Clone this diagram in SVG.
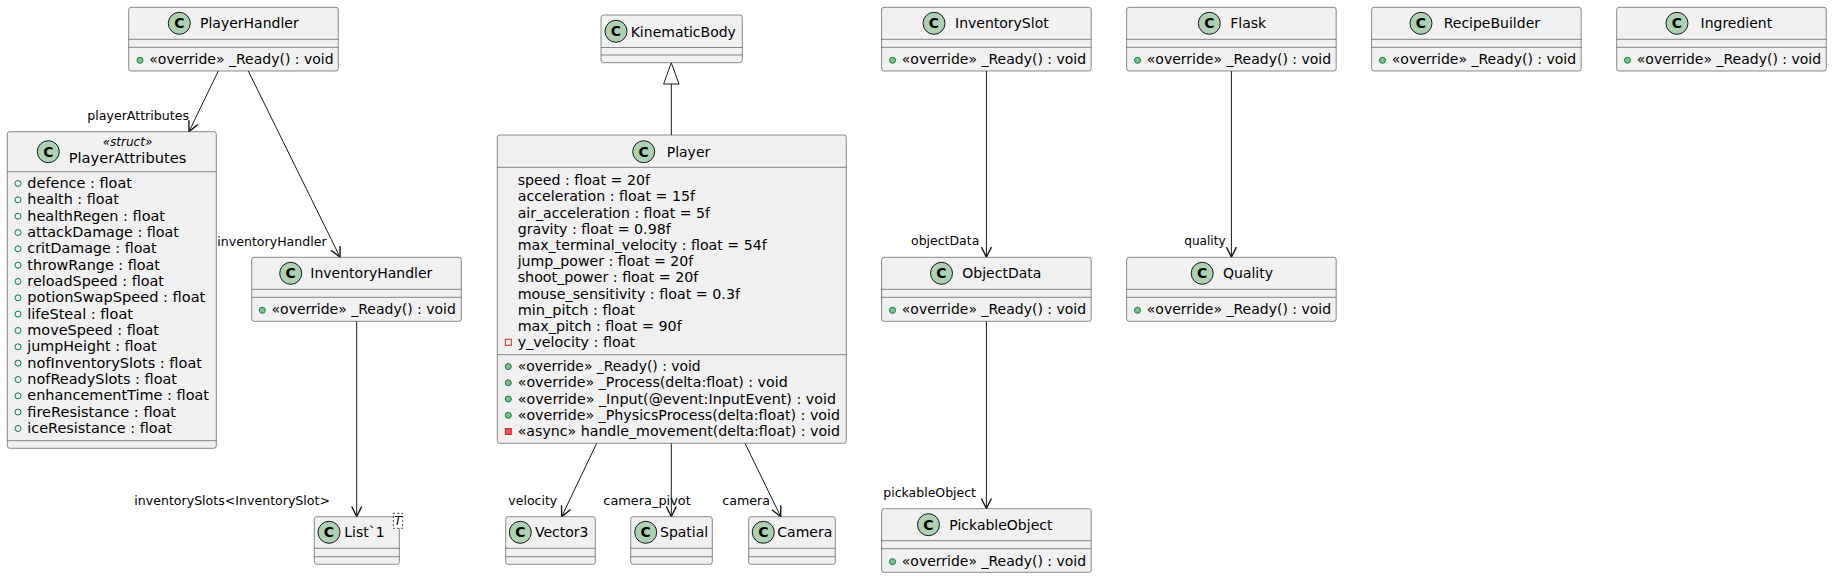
<svg xmlns="http://www.w3.org/2000/svg" width="1832" height="578" viewBox="0 0 1832 578">
<defs>
<style>
text{font-family:"DejaVu Sans","Liberation Sans",sans-serif;fill:#000000}
.box{fill:#F1F1F1;stroke:#181818;stroke-width:0.5}
.sep{stroke:#181818;stroke-width:0.5}
.badge{fill:#ADD1B2;stroke:#181818;stroke-width:1}
.cl{font-size:14px;font-weight:bold;text-anchor:middle}
.nm{font-size:14px}
.mem{font-size:14px}
.st{font-size:12px;font-style:italic;text-anchor:middle}
.lbl{font-size:13px}
.pubm{fill:#84BE84;stroke:#038048;stroke-width:1}
.pubf{fill:none;stroke:#038048;stroke-width:1}
.privf{fill:none;stroke:#C82930;stroke-width:1}
.privm{fill:#F24D5C;stroke:#C82930;stroke-width:1}
.edge{stroke:#181818;stroke-width:1;fill:none}
</style>
<marker id="arr" markerUnits="userSpaceOnUse" markerWidth="14" markerHeight="14" viewBox="-12 -7 14 14" refX="0" refY="0" orient="auto">
<path d="M-10,-5 L0,0 L-10,5" fill="none" stroke="#181818" stroke-width="1.4"/>
</marker>
</defs>
<rect width="1832" height="578" fill="#FFFFFF"/>

<g id="connectors">
<line class="edge" x1="218.3" y1="71" x2="189" y2="131.5" marker-end="url(#arr)"/>
<text class="lbl" x="87.3" y="119.5" textLength="101.7" lengthAdjust="spacingAndGlyphs">playerAttributes</text>
<line class="edge" x1="248.3" y1="71" x2="340" y2="257.1" marker-end="url(#arr)"/>
<text class="lbl" x="217.3" y="245.8" textLength="109.4" lengthAdjust="spacingAndGlyphs">inventoryHandler</text>
<line class="edge" x1="356.7" y1="321.3" x2="356.7" y2="516.5" marker-end="url(#arr)"/>
<text class="lbl" x="134.3" y="504.8" textLength="195.7" lengthAdjust="spacingAndGlyphs">inventorySlots&lt;InventorySlot&gt;</text>
<line class="edge" x1="671.3" y1="135" x2="671.3" y2="84"/>
<polygon points="671.3,62.7 663.6,84 679,84" fill="none" stroke="#181818" stroke-width="1"/>
<line class="edge" x1="596.7" y1="443.3" x2="561.7" y2="516.5" marker-end="url(#arr)"/>
<text class="lbl" x="508.3" y="505" textLength="49" lengthAdjust="spacingAndGlyphs">velocity</text>
<line class="edge" x1="671.3" y1="443.3" x2="671.3" y2="516.5" marker-end="url(#arr)"/>
<text class="lbl" x="603.3" y="505" textLength="87.4" lengthAdjust="spacingAndGlyphs">camera_pivot</text>
<line class="edge" x1="745" y1="443.3" x2="780.7" y2="516.5" marker-end="url(#arr)"/>
<text class="lbl" x="722.3" y="505" textLength="47.7" lengthAdjust="spacingAndGlyphs">camera</text>
<line class="edge" x1="986.4" y1="71" x2="986.4" y2="257.1" marker-end="url(#arr)"/>
<text class="lbl" x="911" y="245.3" textLength="68.3" lengthAdjust="spacingAndGlyphs">objectData</text>
<line class="edge" x1="986.4" y1="321.3" x2="986.4" y2="508.5" marker-end="url(#arr)"/>
<text class="lbl" x="883.3" y="496.7" textLength="92.7" lengthAdjust="spacingAndGlyphs">pickableObject</text>
<line class="edge" x1="1231.4" y1="71" x2="1231.4" y2="257.1" marker-end="url(#arr)"/>
<text class="lbl" x="1184.3" y="245.3" textLength="41.3" lengthAdjust="spacingAndGlyphs">quality</text>
</g>

<g id="PlayerHandler">
<rect class="box" x="128.7" y="7.3" width="209.6" height="63.7" rx="2.5"/>
<circle class="badge" cx="179.3" cy="23.3" r="11"/><text class="cl" x="179.3" y="28.3">C</text>
<text class="nm" x="200" y="28.3">PlayerHandler</text>
<line class="sep" x1="128.7" y1="39.3" x2="338.3" y2="39.3"/>
<line class="sep" x1="128.7" y1="47.3" x2="338.3" y2="47.3"/>
<circle class="pubm" cx="140" cy="60.3" r="3"/>
<text class="mem" x="149.3" y="64.3">«override» _Ready() : void</text>
</g>

<g id="PlayerAttributes">
<rect class="box" x="7.3" y="131.7" width="209" height="316.6" rx="2.5"/>
<circle class="badge" cx="48.3" cy="151.7" r="11"/><text class="cl" x="48.3" y="156.7">C</text>
<text class="st" x="127.5" y="146">«struct»</text>
<text class="nm" x="68.7" y="162.7" textLength="117.6" lengthAdjust="spacingAndGlyphs">PlayerAttributes</text>
<line class="sep" x1="7.3" y1="171.7" x2="216.3" y2="171.7"/>
<circle class="pubf" cx="18" cy="183.5" r="3"/><text class="mem" x="27.3" y="188" textLength="104.7" lengthAdjust="spacingAndGlyphs">defence : float</text>
<circle class="pubf" cx="18" cy="199.8" r="3"/><text class="mem" x="27.3" y="204.3" textLength="91.7" lengthAdjust="spacingAndGlyphs">health : float</text>
<circle class="pubf" cx="18" cy="216.2" r="3"/><text class="mem" x="27.3" y="220.7" textLength="137.7" lengthAdjust="spacingAndGlyphs">healthRegen : float</text>
<circle class="pubf" cx="18" cy="232.5" r="3"/><text class="mem" x="27.3" y="237" textLength="151.7" lengthAdjust="spacingAndGlyphs">attackDamage : float</text>
<circle class="pubf" cx="18" cy="248.8" r="3"/><text class="mem" x="27.3" y="253.3" textLength="129.4" lengthAdjust="spacingAndGlyphs">critDamage : float</text>
<circle class="pubf" cx="18" cy="265.2" r="3"/><text class="mem" x="27.3" y="269.7" textLength="132.7" lengthAdjust="spacingAndGlyphs">throwRange : float</text>
<circle class="pubf" cx="18" cy="281.5" r="3"/><text class="mem" x="27.3" y="286" textLength="136.7" lengthAdjust="spacingAndGlyphs">reloadSpeed : float</text>
<circle class="pubf" cx="18" cy="297.8" r="3"/><text class="mem" x="27.3" y="302.3" textLength="178" lengthAdjust="spacingAndGlyphs">potionSwapSpeed : float</text>
<circle class="pubf" cx="18" cy="314.1" r="3"/><text class="mem" x="27.3" y="318.6" textLength="105.7" lengthAdjust="spacingAndGlyphs">lifeSteal : float</text>
<circle class="pubf" cx="18" cy="330.5" r="3"/><text class="mem" x="27.3" y="335" textLength="131.7" lengthAdjust="spacingAndGlyphs">moveSpeed : float</text>
<circle class="pubf" cx="18" cy="346.8" r="3"/><text class="mem" x="27.3" y="351.3" textLength="129.4" lengthAdjust="spacingAndGlyphs">jumpHeight : float</text>
<circle class="pubf" cx="18" cy="363.1" r="3"/><text class="mem" x="27.3" y="367.6" textLength="174.7" lengthAdjust="spacingAndGlyphs">nofInventorySlots : float</text>
<circle class="pubf" cx="18" cy="379.5" r="3"/><text class="mem" x="27.3" y="384" textLength="149.7" lengthAdjust="spacingAndGlyphs">nofReadySlots : float</text>
<circle class="pubf" cx="18" cy="395.8" r="3"/><text class="mem" x="27.3" y="400.3" textLength="181.7" lengthAdjust="spacingAndGlyphs">enhancementTime : float</text>
<circle class="pubf" cx="18" cy="412.1" r="3"/><text class="mem" x="27.3" y="416.6" textLength="148.7" lengthAdjust="spacingAndGlyphs">fireResistance : float</text>
<circle class="pubf" cx="18" cy="428.5" r="3"/><text class="mem" x="27.3" y="433" textLength="144.7" lengthAdjust="spacingAndGlyphs">iceResistance : float</text>
<line class="sep" x1="7.3" y1="440.7" x2="216.3" y2="440.7"/>
</g>

<g id="InventoryHandler">
<rect class="box" x="251.7" y="257.3" width="209.6" height="64" rx="2.5"/>
<circle class="badge" cx="290.7" cy="273.3" r="11"/><text class="cl" x="290.7" y="278.3">C</text>
<text class="nm" x="310.3" y="278.3">InventoryHandler</text>
<line class="sep" x1="251.7" y1="289.3" x2="461.3" y2="289.3"/>
<line class="sep" x1="251.7" y1="297.3" x2="461.3" y2="297.3"/>
<circle class="pubm" cx="262.3" cy="310.3" r="3"/>
<text class="mem" x="271.5" y="314.3">«override» _Ready() : void</text>
</g>

<g id="List1">
<rect class="box" x="314.3" y="516.7" width="85" height="47.6" rx="2.5"/>
<circle class="badge" cx="329" cy="532.3" r="11"/><text class="cl" x="329" y="537.3">C</text>
<text class="nm" x="344.3" y="537.3">List`1</text>
<line class="sep" x1="314.3" y1="548.3" x2="399.3" y2="548.3"/>
<line class="sep" x1="314.3" y1="556.7" x2="399.3" y2="556.7"/>
<rect x="393.3" y="513.3" width="9.4" height="15" fill="#FFFFFF" stroke="#181818" stroke-width="0.8" stroke-dasharray="2,2"/>
<text x="398" y="525" font-size="12" font-style="italic" text-anchor="middle">T</text>
</g>

<g id="KinematicBody">
<rect class="box" x="601" y="15" width="141.3" height="47.7" rx="2.5"/>
<circle class="badge" cx="616" cy="31.3" r="11"/><text class="cl" x="616" y="36.3">C</text>
<text class="nm" x="630.7" y="36.5">KinematicBody</text>
<line class="sep" x1="601" y1="47.5" x2="742.3" y2="47.5"/>
<line class="sep" x1="601" y1="55" x2="742.3" y2="55"/>
</g>

<g id="Player">
<rect class="box" x="497.3" y="135" width="349" height="308.3" rx="2.5"/>
<circle class="badge" cx="643.7" cy="151.7" r="11"/><text class="cl" x="643.7" y="156.7">C</text>
<text class="nm" x="666.7" y="156.7">Player</text>
<line class="sep" x1="497.3" y1="167.3" x2="846.3" y2="167.3"/>
<text class="mem" x="517.7" y="185" textLength="132.3" lengthAdjust="spacingAndGlyphs">speed : float = 20f</text>
<text class="mem" x="517.7" y="201.2" textLength="177.3" lengthAdjust="spacingAndGlyphs">acceleration : float = 15f</text>
<text class="mem" x="517.7" y="217.5" textLength="192.3" lengthAdjust="spacingAndGlyphs">air_acceleration : float = 5f</text>
<text class="mem" x="517.7" y="233.7" textLength="153" lengthAdjust="spacingAndGlyphs">gravity : float = 0.98f</text>
<text class="mem" x="517.7" y="249.9" textLength="249" lengthAdjust="spacingAndGlyphs">max_terminal_velocity : float = 54f</text>
<text class="mem" x="517.7" y="266.2" textLength="175.6" lengthAdjust="spacingAndGlyphs">jump_power : float = 20f</text>
<text class="mem" x="517.7" y="282.4" textLength="180.6" lengthAdjust="spacingAndGlyphs">shoot_power : float = 20f</text>
<text class="mem" x="517.7" y="298.6" textLength="222.3" lengthAdjust="spacingAndGlyphs">mouse_sensitivity : float = 0.3f</text>
<text class="mem" x="517.7" y="314.8" textLength="117.3" lengthAdjust="spacingAndGlyphs">min_pitch : float</text>
<text class="mem" x="517.7" y="331.1" textLength="164" lengthAdjust="spacingAndGlyphs">max_pitch : float = 90f</text>
<rect class="privf" x="505.3" y="339.3" width="6" height="6"/>
<text class="mem" x="517.7" y="347.3" textLength="117.3" lengthAdjust="spacingAndGlyphs">y_velocity : float</text>
<line class="sep" x1="497.3" y1="354.7" x2="846.3" y2="354.7"/>
<circle class="pubm" cx="508.3" cy="366.5" r="3"/><text class="mem" x="517.7" y="371" textLength="183" lengthAdjust="spacingAndGlyphs">«override» _Ready() : void</text>
<circle class="pubm" cx="508.3" cy="382.8" r="3"/><text class="mem" x="517.7" y="387.3" textLength="270" lengthAdjust="spacingAndGlyphs">«override» _Process(delta:float) : void</text>
<circle class="pubm" cx="508.3" cy="399" r="3"/><text class="mem" x="517.7" y="403.5" textLength="318.3" lengthAdjust="spacingAndGlyphs">«override» _Input(@event:InputEvent) : void</text>
<circle class="pubm" cx="508.3" cy="415.3" r="3"/><text class="mem" x="517.7" y="419.8" textLength="322.3" lengthAdjust="spacingAndGlyphs">«override» _PhysicsProcess(delta:float) : void</text>
<rect class="privm" x="505.3" y="428.5" width="6" height="6"/><text class="mem" x="517.7" y="436" textLength="322.3" lengthAdjust="spacingAndGlyphs">«async» handle_movement(delta:float) : void</text>
</g>

<g id="Vector3">
<rect class="box" x="505.7" y="516.7" width="89.6" height="47.6" rx="2.5"/>
<circle class="badge" cx="520.3" cy="532.3" r="11"/><text class="cl" x="520.3" y="537.3">C</text>
<text class="nm" x="535" y="537.3">Vector3</text>
<line class="sep" x1="505.7" y1="548.3" x2="595.3" y2="548.3"/>
<line class="sep" x1="505.7" y1="556.7" x2="595.3" y2="556.7"/>
</g>

<g id="Spatial">
<rect class="box" x="630.7" y="516.7" width="81.6" height="47.6" rx="2.5"/>
<circle class="badge" cx="645.7" cy="532.3" r="11"/><text class="cl" x="645.7" y="537.3">C</text>
<text class="nm" x="660" y="537.3">Spatial</text>
<line class="sep" x1="630.7" y1="548.3" x2="712.3" y2="548.3"/>
<line class="sep" x1="630.7" y1="556.7" x2="712.3" y2="556.7"/>
</g>

<g id="Camera">
<rect class="box" x="748.7" y="516.7" width="86.6" height="47.6" rx="2.5"/>
<circle class="badge" cx="763.3" cy="532.3" r="11"/><text class="cl" x="763.3" y="537.3">C</text>
<text class="nm" x="777.3" y="537.3">Camera</text>
<line class="sep" x1="748.7" y1="548.3" x2="835.3" y2="548.3"/>
<line class="sep" x1="748.7" y1="556.7" x2="835.3" y2="556.7"/>
</g>

<g id="InventorySlot">
<rect class="box" x="881.6" y="7.3" width="209.6" height="63.7" rx="2.5"/>
<circle class="badge" cx="934" cy="23.3" r="11"/><text class="cl" x="934" y="28.3">C</text>
<text class="nm" x="955" y="28.3">InventorySlot</text>
<line class="sep" x1="881.6" y1="39.3" x2="1091.2" y2="39.3"/>
<line class="sep" x1="881.6" y1="47.3" x2="1091.2" y2="47.3"/>
<circle class="pubm" cx="892.5" cy="60.3" r="3"/>
<text class="mem" x="901.8" y="64.3">«override» _Ready() : void</text>
</g>

<g id="ObjectData">
<rect class="box" x="881.6" y="257.3" width="209.6" height="64" rx="2.5"/>
<circle class="badge" cx="941.5" cy="273.3" r="11"/><text class="cl" x="941.5" y="278.3">C</text>
<text class="nm" x="962.3" y="278.3">ObjectData</text>
<line class="sep" x1="881.6" y1="289.3" x2="1091.2" y2="289.3"/>
<line class="sep" x1="881.6" y1="297.3" x2="1091.2" y2="297.3"/>
<circle class="pubm" cx="892.5" cy="310.3" r="3"/>
<text class="mem" x="901.8" y="314.3">«override» _Ready() : void</text>
</g>

<g id="PickableObject">
<rect class="box" x="881.6" y="508.7" width="209.6" height="63.6" rx="2.5"/>
<circle class="badge" cx="928.5" cy="524.7" r="11"/><text class="cl" x="928.5" y="529.7">C</text>
<text class="nm" x="949.3" y="529.7">PickableObject</text>
<line class="sep" x1="881.6" y1="540.7" x2="1091.2" y2="540.7"/>
<line class="sep" x1="881.6" y1="548.7" x2="1091.2" y2="548.7"/>
<circle class="pubm" cx="892.5" cy="561.7" r="3"/>
<text class="mem" x="901.8" y="565.7">«override» _Ready() : void</text>
</g>

<g id="Flask">
<rect class="box" x="1126.6" y="7.3" width="209.6" height="63.7" rx="2.5"/>
<circle class="badge" cx="1209.3" cy="23.3" r="11"/><text class="cl" x="1209.3" y="28.3">C</text>
<text class="nm" x="1230.3" y="28.3">Flask</text>
<line class="sep" x1="1126.6" y1="39.3" x2="1336.2" y2="39.3"/>
<line class="sep" x1="1126.6" y1="47.3" x2="1336.2" y2="47.3"/>
<circle class="pubm" cx="1137.5" cy="60.3" r="3"/>
<text class="mem" x="1146.8" y="64.3">«override» _Ready() : void</text>
</g>

<g id="Quality">
<rect class="box" x="1126.6" y="257.3" width="209.6" height="64" rx="2.5"/>
<circle class="badge" cx="1202.2" cy="273.3" r="11"/><text class="cl" x="1202.2" y="278.3">C</text>
<text class="nm" x="1223" y="278.3">Quality</text>
<line class="sep" x1="1126.6" y1="289.3" x2="1336.2" y2="289.3"/>
<line class="sep" x1="1126.6" y1="297.3" x2="1336.2" y2="297.3"/>
<circle class="pubm" cx="1137.5" cy="310.3" r="3"/>
<text class="mem" x="1146.8" y="314.3">«override» _Ready() : void</text>
</g>

<g id="RecipeBuilder">
<rect class="box" x="1371.6" y="7.3" width="209.6" height="63.7" rx="2.5"/>
<circle class="badge" cx="1421" cy="23.3" r="11"/><text class="cl" x="1421" y="28.3">C</text>
<text class="nm" x="1443.7" y="28.3">RecipeBuilder</text>
<line class="sep" x1="1371.6" y1="39.3" x2="1581.2" y2="39.3"/>
<line class="sep" x1="1371.6" y1="47.3" x2="1581.2" y2="47.3"/>
<circle class="pubm" cx="1382.5" cy="60.3" r="3"/>
<text class="mem" x="1391.8" y="64.3">«override» _Ready() : void</text>
</g>

<g id="Ingredient">
<rect class="box" x="1616.7" y="7.3" width="209.6" height="63.7" rx="2.5"/>
<circle class="badge" cx="1677" cy="23.3" r="11"/><text class="cl" x="1677" y="28.3">C</text>
<text class="nm" x="1700.5" y="28.3">Ingredient</text>
<line class="sep" x1="1616.7" y1="39.3" x2="1826.3" y2="39.3"/>
<line class="sep" x1="1616.7" y1="47.3" x2="1826.3" y2="47.3"/>
<circle class="pubm" cx="1627.5" cy="60.3" r="3"/>
<text class="mem" x="1636.8" y="64.3">«override» _Ready() : void</text>
</g>
</svg>
